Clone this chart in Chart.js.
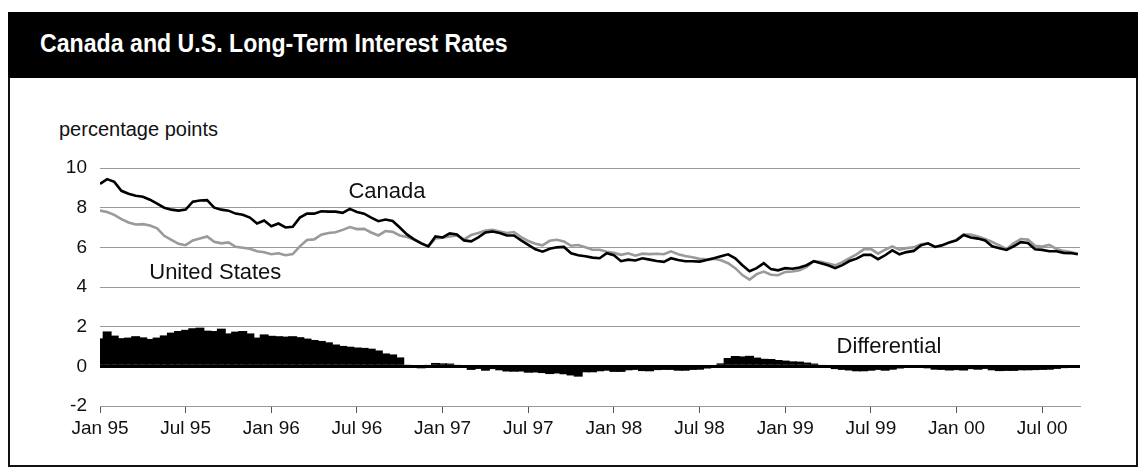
<!DOCTYPE html>
<html>
<head>
<meta charset="utf-8">
<script src="https://cdn.jsdelivr.net/npm/chart.js@4.4.1/dist/chart.umd.min.js"></script>
<style>
  html, body { margin: 0; padding: 0; background: #fff; }
  body { width: 1146px; height: 475px; position: relative; overflow: hidden; font-family: 'Liberation Sans', Arial, sans-serif; }
  .frame { position: absolute; left: 8px; top: 12px; width: 1126px; height: 453px; border: 2px solid #111; border-top: 0; }
  .bar { position: absolute; left: 8px; top: 12px; width: 1130px; height: 66px; background: #000; }
  .bar h1 { margin: 0; position: absolute; left: 32px; top: 16px; color: #fff; font: bold 26px 'Liberation Sans Narrow', 'Liberation Sans', sans-serif; transform: scaleX(0.89); transform-origin: 0 0; white-space: nowrap; }
  .unit { position: absolute; left: 59px; top: 118px; font-size: 20px; color: #111; }
  canvas { position: absolute; left: 0; top: 0; }
</style>
</head>
<body>
<div class="frame"></div>
<div class="bar"><h1>Canada and U.S. Long-Term Interest Rates</h1></div>
<div class="unit">percentage points</div>
<canvas id="c" width="1146" height="475"></canvas>
<script>
// x = months since Jan 95, sampled every half month
const STEP = 0.5;
const tickMonths = [0, 6, 12, 18, 24, 30, 36, 42, 48, 54, 60, 66];
const tickLabels = ['Jan 95', 'Jul 95', 'Jan 96', 'Jul 96', 'Jan 97', 'Jul 97', 'Jan 98', 'Jul 98', 'Jan 99', 'Jul 99', 'Jan 00', 'Jul 00'];

const canada = [
  9.2, 9.44, 9.3, 8.85, 8.7, 8.6, 8.55, 8.4, 8.2, 8.0, 7.9, 7.85,
  7.9, 8.3, 8.36, 8.38, 8.0, 7.9, 7.85, 7.7, 7.64, 7.5, 7.2, 7.35,
  7.06, 7.2, 7.0, 7.04, 7.5, 7.7, 7.7, 7.82, 7.8, 7.8, 7.74, 7.94,
  7.78, 7.7, 7.5, 7.32, 7.4, 7.33, 7.0, 6.65, 6.4, 6.2, 6.05, 6.55,
  6.5, 6.7, 6.65, 6.35, 6.3, 6.5, 6.75, 6.8, 6.72, 6.6, 6.6, 6.35,
  6.12, 5.9, 5.78, 5.93, 6.0, 6.02, 5.7, 5.6, 5.55, 5.48, 5.45, 5.7,
  5.6, 5.3, 5.38, 5.34, 5.45, 5.38, 5.31, 5.27, 5.45, 5.36, 5.3, 5.3,
  5.28, 5.36, 5.45, 5.55, 5.65, 5.45, 5.1, 4.8, 4.95, 5.2, 4.9, 4.84,
  4.95, 4.92, 4.98, 5.1, 5.3, 5.2, 5.1, 4.95, 5.1, 5.31, 5.43, 5.62,
  5.62, 5.4, 5.6, 5.85, 5.65, 5.76, 5.82, 6.1, 6.2, 6.02, 6.1, 6.25,
  6.35, 6.62, 6.5, 6.44, 6.35, 6.05, 5.95, 5.87, 6.05, 6.26, 6.22, 5.9,
  5.87, 5.8, 5.8, 5.72, 5.71, 5.65,
];
const unitedStates = [
  7.85, 7.78, 7.64, 7.42, 7.25, 7.15, 7.17, 7.1, 6.96, 6.58, 6.38, 6.18,
  6.11, 6.35, 6.45, 6.55, 6.28, 6.2, 6.25, 6.03, 5.98, 5.93, 5.8, 5.75,
  5.65, 5.7, 5.6, 5.66, 6.05, 6.37, 6.4, 6.64, 6.72, 6.76, 6.88, 7.02,
  6.92, 6.93, 6.75, 6.6, 6.82, 6.78, 6.6, 6.52, 6.4, 6.22, 6.05, 6.45,
  6.49, 6.55, 6.6, 6.4, 6.62, 6.72, 6.85, 6.88, 6.8, 6.72, 6.77, 6.52,
  6.32, 6.18, 6.1, 6.33, 6.38, 6.3, 6.08, 6.12, 6.0, 5.88, 5.88, 5.78,
  5.72, 5.62, 5.7, 5.58, 5.68, 5.66, 5.68, 5.65, 5.8, 5.65, 5.56, 5.5,
  5.42, 5.4, 5.42, 5.35, 5.2, 4.95, 4.6, 4.37, 4.65, 4.78, 4.62, 4.59,
  4.76, 4.78, 4.85, 5.02, 5.3, 5.27, 5.18, 5.09, 5.25, 5.45, 5.65, 5.9,
  5.92, 5.68, 5.88, 6.05, 5.88, 5.96, 6.0, 6.15, 6.2, 6.02, 6.12, 6.25,
  6.39, 6.65, 6.65, 6.55, 6.42, 6.27, 6.1, 5.92, 6.2, 6.42, 6.39, 6.08,
  6.04, 6.12, 5.92, 5.82, 5.76, 5.68,
];
const differential = [
  1.41, 1.76, 1.55, 1.42, 1.45, 1.52, 1.46, 1.38, 1.45, 1.56, 1.7, 1.78,
  1.84, 1.92, 1.95, 1.8, 1.78, 1.9, 1.66, 1.75, 1.78, 1.66, 1.45, 1.61,
  1.54, 1.52, 1.5, 1.52, 1.47, 1.4, 1.33, 1.28, 1.21, 1.1, 1.03, 0.99,
  0.95, 0.93, 0.89, 0.8, 0.65, 0.6, 0.45, 0.05, -0.08, -0.1, 0.07, 0.17,
  0.15, 0.14, 0.07, -0.02, -0.18, -0.13, -0.22, -0.14, -0.2, -0.26, -0.27, -0.26,
  -0.32, -0.31, -0.34, -0.39, -0.36, -0.4, -0.46, -0.52, -0.3, -0.3, -0.25, -0.22,
  -0.28, -0.28, -0.2, -0.18, -0.24, -0.25, -0.19, -0.18, -0.18, -0.22, -0.22, -0.18,
  -0.17, -0.11, -0.05, 0.15, 0.42, 0.52, 0.5, 0.53, 0.44, 0.38, 0.37, 0.32,
  0.29, 0.25, 0.24, 0.19, 0.14, 0.08, -0.02, -0.14, -0.18, -0.21, -0.25, -0.25,
  -0.22, -0.18, -0.22, -0.17, -0.11, -0.03, -0.02, -0.03, -0.1, -0.17, -0.18, -0.21,
  -0.19, -0.21, -0.14, -0.17, -0.13, -0.2, -0.24, -0.23, -0.23, -0.2, -0.2, -0.19,
  -0.18, -0.17, -0.13, -0.09, -0.05, -0.05,
];

// in-plot labels, placed in data units (left edge, baseline)
const seriesLabels = [
  { text: 'Canada', x: 17.4, y: 8.47 },
  { text: 'United States', x: 3.45, y: 4.39 },
  { text: 'Differential', x: 51.6, y: 0.66 },
];

const pts = (arr) => arr.map((v, i) => ({ x: i * STEP, y: v }));
const FONT = "'Liberation Sans', Arial, sans-serif";

const labelPlugin = {
  id: 'seriesLabels',
  afterDatasetsDraw(chart) {
    const { ctx, scales: { x, y } } = chart;
    ctx.save();
    ctx.font = '22px ' + FONT;
    ctx.fillStyle = '#111';
    ctx.textBaseline = 'alphabetic';
    ctx.textAlign = 'left';
    seriesLabels.forEach((l) => ctx.fillText(l.text, x.getPixelForValue(l.x), y.getPixelForValue(l.y)));
    ctx.restore();
  },
};

new Chart(document.getElementById('c'), {
  type: 'line',
  data: {
    datasets: [
      { label: 'Canada', data: pts(canada), borderColor: '#000', borderWidth: 2.6, pointRadius: 0, tension: 0, order: 1 },
      { label: 'United States', data: pts(unitedStates), borderColor: '#9a9a9a', borderWidth: 2.6, pointRadius: 0, tension: 0, order: 2 },
      // slight overlap so neighbouring bars read as one solid area
      { type: 'bar', label: 'Differential', data: pts(differential), backgroundColor: '#000', borderWidth: 0, barPercentage: 1.25, categoryPercentage: 1, order: 3 },
    ],
  },
  options: {
    responsive: false,
    animation: false,
    events: [],
    layout: { padding: { top: 168, right: 66, bottom: 0, left: 0 } },
    plugins: { legend: { display: false }, tooltip: { enabled: false } },
    scales: {
      x: {
        type: 'linear', min: 0, max: 68.65, offset: false,
        grid: { drawOnChartArea: false, drawTicks: true, tickLength: 7, color: '#555', offset: false },
        border: { display: true, color: '#999', width: 1 },
        afterBuildTicks: (s) => { s.ticks = tickMonths.map((v) => ({ value: v })); },
        afterFit: (s) => { s.height = 69; },
        ticks: {
          autoSkip: false, maxRotation: 0, padding: 4, color: '#111',
          font: { family: FONT, size: 19 },
          callback: (v) => tickLabels[tickMonths.indexOf(v)],
        },
      },
      y: {
        min: -2, max: 10,
        grid: {
          drawTicks: false,
          color: (c) => (c.tick && c.tick.value === 0 ? '#000' : '#999'),
          lineWidth: (c) => (c.tick && c.tick.value === 0 ? 3 : 1),
        },
        border: { display: false },
        afterFit: (s) => { s.width = 100; },
        ticks: { stepSize: 2, padding: 13, color: '#111', font: { family: FONT, size: 19 } },
      },
    },
  },
  plugins: [labelPlugin],
});
</script>
</body>
</html>
